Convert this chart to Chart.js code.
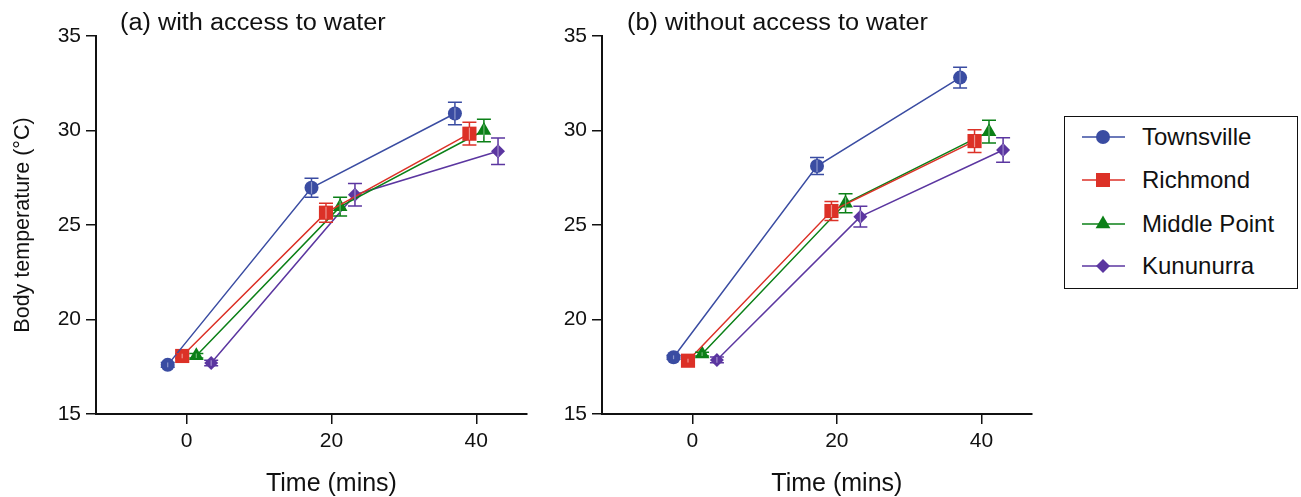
<!DOCTYPE html>
<html><head><meta charset="utf-8">
<script src="https://cdn.jsdelivr.net/npm/chart.js@4.4.1/dist/chart.umd.min.js"></script>
<style>
html,body{margin:0;padding:0;background:#fff;width:1301px;height:497px;overflow:hidden;font-family:"Liberation Sans",Arial,Helvetica,sans-serif;}
canvas{position:absolute;top:0;}
#cA{left:0}
#cB{left:506px}
.ptitle{position:absolute;top:10px;font-size:23px;line-height:24px;color:#111;white-space:nowrap;transform:scaleX(1.1);transform-origin:0 0;}
#legend{position:absolute;left:1064px;top:116px;width:232px;height:171px;border:1.5px solid #111;}
.row{position:absolute;left:0;width:230px;height:30px;}
.row svg{position:absolute;left:16px;top:0}
.row span{position:absolute;left:77px;top:0;font-size:24px;line-height:30px;color:#111;white-space:nowrap}
</style></head><body>
<canvas id="cA" width="540" height="497"></canvas>
<canvas id="cB" width="540" height="497"></canvas>
<div class="ptitle" style="left:120px">(a) with access to water</div>
<div class="ptitle" style="left:627px">(b) without access to water</div>
<div id="legend"></div>
<script>
// ---- data ----
const seriesNames = ['Townsville', 'Richmond', 'Middle Point', 'Kununurra'];
const xTickValues = [0, 20, 40];
const yTickValues = [15, 20, 25, 30, 35];
const xTitleText = 'Time (mins)';
const yTitleText = 'Body temperature (°C)';

// plotted x positions (time, jittered per site)
const xTownsville  = [-2.6, 17.25, 37.05];
const xRichmond    = [-0.6, 19.25, 39.05];
const xMiddlePoint = [1.35, 21.2, 41.05];
const xKununurra   = [3.4, 23.25, 43.0];

// (a) with access to water
const aTownsville  = [17.6, 26.97, 30.9];
const aRichmond    = [18.07, 25.65, 29.83];
const aMiddlePoint = [18.08, 25.97, 30.0];
const aKununurra   = [17.7, 26.6, 28.9];
const aErrTownsville  = [0.12, 0.5, 0.6];
const aErrRichmond    = [0.12, 0.5, 0.6];
const aErrMiddlePoint = [0.12, 0.5, 0.6];
const aErrKununurra   = [0.15, 0.6, 0.7];

// (b) without access to water
const bTownsville  = [18.0, 28.12, 32.8];
const bRichmond    = [17.82, 25.74, 29.44];
const bMiddlePoint = [18.17, 26.15, 29.94];
const bKununurra   = [17.86, 25.44, 28.97];
const bErrTownsville  = [0.1, 0.45, 0.55];
const bErrRichmond    = [0.1, 0.5, 0.6];
const bErrMiddlePoint = [0.1, 0.5, 0.6];
const bErrKununurra   = [0.15, 0.55, 0.65];

// ---- styles ----
const seriesColors = ['#3a4ca2', '#dc3127', '#0b8017', '#5b36a0'];
const seriesTints  = ['#8c97cc', '#ee948e', '#6db574', '#a08ccb'];
const pointStyles = ['circle', 'rect', 'triangle', 'rectRot'];
const pointRadii = [7, 10, 8.5, 7];
const FONT = '"Liberation Sans", Arial, Helvetica, sans-serif';
const INK = '#111';

const xValues = [xTownsville, xRichmond, xMiddlePoint, xKununurra];

const errorBarPlugin = {
  id: 'errbars',
  afterDatasetsDraw(chart) {
    const ctx = chart.ctx;
    const ys = chart.scales.y;
    chart.data.datasets.forEach((ds, i) => {
      const meta = chart.getDatasetMeta(i);
      ctx.save();
      ctx.lineWidth = 1.5;
      meta.data.forEach((pt, j) => {
        const e = ds.errors[j];
        const v = ds.data[j].y;
        const yt = ys.getPixelForValue(v + e);
        const yb = ys.getPixelForValue(v - e);
        ctx.strokeStyle = ds.borderColor;
        ctx.beginPath();
        ctx.moveTo(pt.x, yt); ctx.lineTo(pt.x, yb);
        ctx.moveTo(pt.x - 7, yt); ctx.lineTo(pt.x + 7, yt);
        ctx.moveTo(pt.x - 7, yb); ctx.lineTo(pt.x + 7, yb);
        ctx.stroke();
        // lighter segment where the bar crosses the marker
        const r = 6;
        const s0 = Math.max(yt, pt.y - r), s1 = Math.min(yb, pt.y + r);
        if (s1 > s0) {
          ctx.strokeStyle = seriesTints[i];
          ctx.lineWidth = 1.2;
          ctx.beginPath(); ctx.moveTo(pt.x, s0); ctx.lineTo(pt.x, s1); ctx.stroke();
          ctx.lineWidth = 1.5;
        }
      });
      ctx.restore();
    });
  }
};

const xTitlePlugin = {
  id: 'xtitle',
  afterDraw(chart) {
    const ctx = chart.ctx;
    const xs = chart.scales.x;
    ctx.save();
    ctx.font = '25px ' + FONT;
    ctx.fillStyle = INK;
    ctx.textAlign = 'center';
    ctx.textBaseline = 'alphabetic';
    ctx.fillText(xTitleText, xs.getPixelForValue(xTickValues[1]), 491);
    ctx.restore();
  }
};

function makeChart(id, yVals, errVals, padRight, showYTitle) {
  const datasets = seriesNames.map((name, i) => ({
    label: name,
    data: xValues[i].map((x, j) => ({ x: x, y: yVals[i][j] })),
    errors: errVals[i],
    showLine: true,
    borderColor: seriesColors[i],
    backgroundColor: seriesColors[i],
    borderWidth: 1.5,
    pointStyle: pointStyles[i],
    pointRadius: pointRadii[i],
    pointHoverRadius: pointRadii[i],
    pointBorderWidth: 0,
    pointBackgroundColor: seriesColors[i],
    order: i
  }));
  const gridOpts = { display: true, drawOnChartArea: false, drawTicks: true, tickLength: 10, color: INK, lineWidth: 1.5 };
  const borderOpts = { display: true, color: INK, width: 2 };
  return new Chart(document.getElementById(id), {
    type: 'scatter',
    data: { datasets },
    options: {
      responsive: false,
      animation: false,
      devicePixelRatio: 1,
      layout: { padding: { top: 36, right: padRight, bottom: 0, left: 0 } },
      plugins: { legend: { display: false }, tooltip: { enabled: false }, title: { display: false } },
      scales: {
        x: {
          type: 'linear', min: -12.5, max: 47,
          afterBuildTicks: s => { s.ticks = xTickValues.map(v => ({ value: v })); },
          afterFit: s => { s.height = 83; },
          grid: gridOpts, border: borderOpts,
          ticks: { color: INK, font: { family: FONT, size: 21 }, padding: 5, maxRotation: 0, autoSkip: false },
          title: { display: false }
        },
        y: {
          type: 'linear', min: 15, max: 35,
          afterBuildTicks: s => { s.ticks = yTickValues.map(v => ({ value: v })); },
          afterFit: s => { s.width = 96; },
          grid: gridOpts, border: borderOpts,
          ticks: { color: INK, font: { family: FONT, size: 21 }, padding: 5 },
          title: { display: showYTitle, text: yTitleText, color: INK, font: { family: FONT, size: 21.5 }, padding: { top: 10, bottom: 0 } }
        }
      }
    },
    plugins: [errorBarPlugin, xTitlePlugin]
  });
}

makeChart('cA',
  [aTownsville, aRichmond, aMiddlePoint, aKununurra],
  [aErrTownsville, aErrRichmond, aErrMiddlePoint, aErrKununurra], 13, true);
makeChart('cB',
  [bTownsville, bRichmond, bMiddlePoint, bKununurra],
  [bErrTownsville, bErrRichmond, bErrMiddlePoint, bErrKununurra], 14, false);

// ---- legend ----
const legendRowTops = [4.5, 47.5, 91.5, 133.5];
function markerSvg(i) {
  const c = seriesColors[i];
  let m = '';
  if (pointStyles[i] === 'circle') m = `<circle cx="22" cy="15" r="7" fill="${c}"/>`;
  else if (pointStyles[i] === 'rect') m = `<rect x="15" y="8" width="14" height="14" fill="${c}"/>`;
  else if (pointStyles[i] === 'triangle') m = `<polygon points="22,6.5 29.4,19.25 14.6,19.25" fill="${c}"/>`;
  else m = `<polygon points="22,8 29,15 22,22 15,15" fill="${c}"/>`;
  return `<svg width="50" height="30" viewBox="0 0 50 30"><line x1="1" y1="15" x2="44" y2="15" stroke="${c}" stroke-width="1.5"/>${m}</svg>`;
}
const lg = document.getElementById('legend');
seriesNames.forEach((n, i) => {
  const r = document.createElement('div');
  r.className = 'row';
  r.style.top = legendRowTops[i] + 'px';
  r.innerHTML = markerSvg(i) + `<span>${n}</span>`;
  lg.appendChild(r);
});
</script>
</body></html>
